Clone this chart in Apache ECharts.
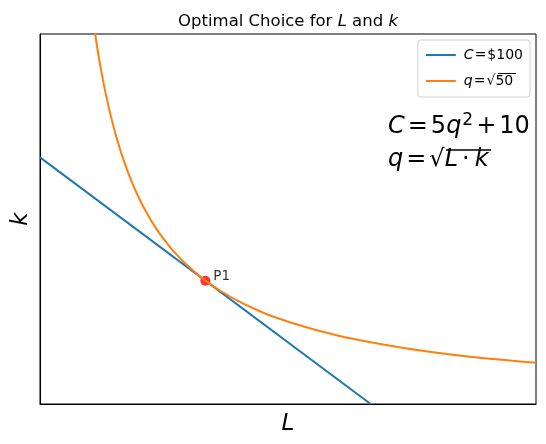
<!DOCTYPE html>
<html><head><meta charset="utf-8">
<script src="https://cdn.jsdelivr.net/npm/echarts@6/dist/echarts.min.js"></script>
<style>html,body{margin:0;padding:0;background:#fff}#c{width:546px;height:444px}</style>
</head><body><div id="c"></div>
<script>
// Budget line C = $100 : k = 10 - L/2
const budgetL = [0, 20];
const budgetK = [10, 0];
// Isoquant q = sqrt(50): L*k = 50
const isoL = [3.2, 3.4, 3.6, 3.8, 4, 4.3, 4.6, 5, 5.5, 6, 6.5, 7, 7.5, 8, 9, 10, 11, 12, 13, 14, 16, 18, 20, 22, 24, 26, 28, 30];
const isoK = [15.63, 14.71, 13.89, 13.16, 12.5, 11.63, 10.87, 10, 9.09, 8.33, 7.69, 7.14, 6.67, 6.25, 5.56, 5, 4.55, 4.17, 3.85, 3.57, 3.13, 2.78, 2.5, 2.27, 2.08, 1.92, 1.79, 1.67];
const pointL = [10];
const pointK = [5];
const pointNames = ['P1'];
const xRange = [0, 30];
const yRange = [0, 15];

const FONT = 'DejaVu Sans';
const chart = echarts.init(document.getElementById('c'), null, {renderer: 'canvas'});
const zip = (a, b) => a.map((v, i) => [v, b[i]]);

const bigRich = {
  i: {fontFamily: FONT, fontSize: 24, fontStyle: 'italic', fill: '#000'},
  r: {fontFamily: FONT, fontSize: 24, fill: '#000'},
  o: {fontFamily: FONT, fontSize: 24, fill: '#000', padding: [0, 3, 0, 3]},
  d: {fontFamily: FONT, fontSize: 24, fill: '#000', padding: [0, 5, 0, 4]},
  s: {fontFamily: FONT, fontSize: 17, fill: '#000', padding: [0, 0, 12, 1]}
};

chart.setOption({
  animation: false,
  backgroundColor: '#fff',
  title: {
    text: 'Optimal Choice for {i|L} and {i|k}',
    left: 283, top: 8, textAlign: 'center',
    textStyle: {fontFamily: FONT, fontSize: 16.5, fontWeight: 'normal', color: '#000',
      rich: {i: {fontFamily: FONT, fontSize: 16.5, fontStyle: 'italic', color: '#000'}}}
  },
  grid: {left: 40, top: 34, right: 10, bottom: 40, containLabel: false, outerBoundsMode: 'none',
    show: true, borderColor: '#000', borderWidth: 1, backgroundColor: 'transparent'},
  xAxis: {type: 'value', min: xRange[0], max: xRange[1],
    axisLine: {show: true, lineStyle: {color: '#000'}}, axisTick: {show: false}, axisLabel: {show: false}, splitLine: {show: false},
    name: 'L', nameLocation: 'middle', nameGap: 9,
    nameTextStyle: {fontFamily: FONT, fontSize: 23, fontStyle: 'italic', color: '#000'}},
  yAxis: {type: 'value', min: yRange[0], max: yRange[1],
    axisLine: {show: true, lineStyle: {color: '#000'}}, axisTick: {show: false}, axisLabel: {show: false}, splitLine: {show: false},
    name: 'k', nameLocation: 'middle', nameGap: 7,
    nameTextStyle: {fontFamily: FONT, fontSize: 23, fontStyle: 'italic', color: '#000'}},
  legend: {
    orient: 'vertical', right: 16, top: 40, padding: [8, 7, 9, 8],
    backgroundColor: '#fff', borderColor: '#d0d0d0', borderWidth: 1, borderRadius: 3,
    icon: 'rect', itemWidth: 30, itemHeight: 2, itemGap: 12,
    data: ['budget', 'iso'],
    formatter: n => n === 'budget' ? '{i|C}{e|=}$100' : '{i|q}{e|=}√50',
    textStyle: {fontFamily: FONT, fontSize: 14, color: '#000', padding: [0, 0, 0, 3],
      rich: {i: {fontFamily: FONT, fontSize: 14, fontStyle: 'italic', color: '#000'},
             e: {fontFamily: FONT, fontSize: 14, color: '#000', padding: [0, 1, 0, 1]}}}
  },
  series: [
    {name: 'budget', type: 'line', data: zip(budgetL, budgetK), showSymbol: false, symbol: 'none',
      lineStyle: {color: '#1f77b4', width: 2}, itemStyle: {color: '#1f77b4'}, z: 2},
    {name: 'P', type: 'scatter', data: zip(pointL, pointK), symbolSize: 10,
      itemStyle: {color: '#ff0000'}, z: 3,
      label: {show: true, position: 'right', distance: 3, offset: [0, -4], formatter: p => pointNames[p.dataIndex],
        fontFamily: FONT, fontSize: 13.5, color: '#000'}},
    {name: 'iso', type: 'line', data: zip(isoL, isoK), showSymbol: false, symbol: 'none', smooth: 0.3,
      lineStyle: {color: '#ff7f0e', width: 2}, itemStyle: {color: '#ff7f0e'}, z: 4}
  ],
  graphic: [
    {type: 'text', left: 388, top: 112, z: 10, style: {
      text: '{i|C}{o|=}{r|5}{i|q}{s|2}{o|+}{r|10}', fontFamily: FONT, fontSize: 24, fill: '#000', rich: bigRich}},
    {type: 'text', left: 388, top: 148, z: 10, style: {
      text: '{i|q}{o|=}{r|√}{i|L}{d|·}{i|k}', fontFamily: FONT, fontSize: 24, fill: '#000', rich: bigRich}},
    {type: 'line', z: 10, shape: {x1: 446, y1: 150, x2: 491, y2: 150}, style: {stroke: '#000', lineWidth: 1.3}},
    {type: 'line', z: 10, shape: {x1: 498, y1: 73.5, x2: 516, y2: 73.5}, style: {stroke: '#000', lineWidth: 1}}
  ]
});
</script></body></html>
